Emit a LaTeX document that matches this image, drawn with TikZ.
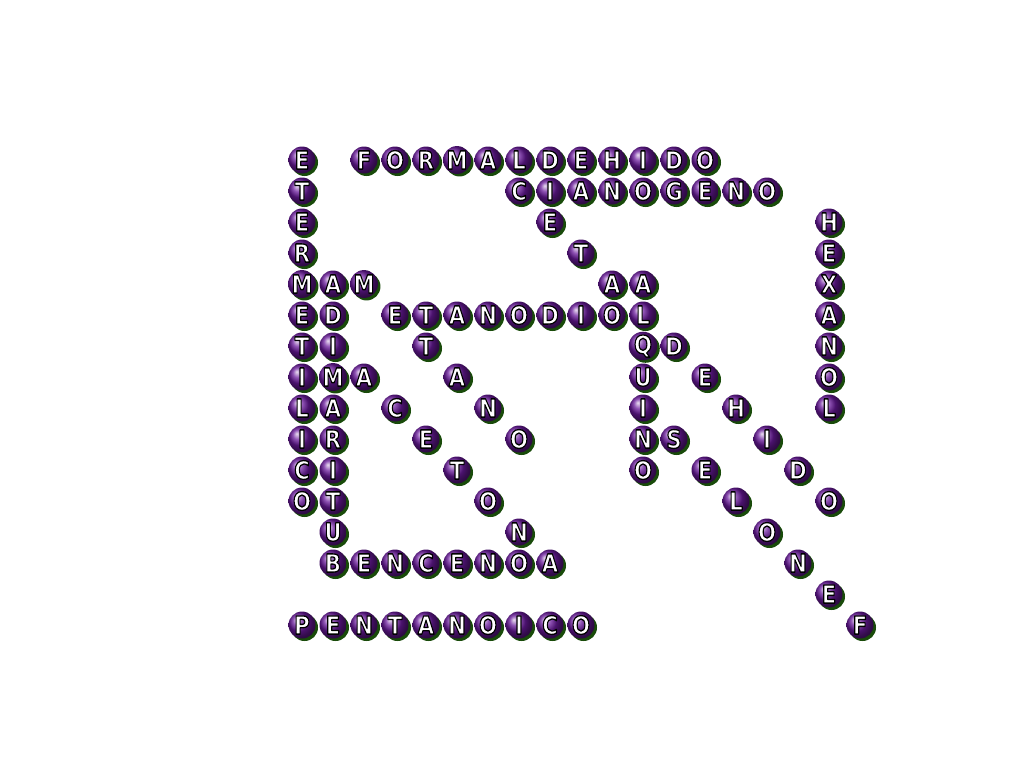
\documentclass[tikz,border=0pt]{standalone}
\usepackage{fontspec}
\usetikzlibrary{shadows}
\newfontfamily\ballfont{DejaVu Sans}
\definecolor{ballpurple}{RGB}{105,25,155}
\definecolor{ballshadow}{RGB}{25,75,10}
% white letter with a black outline
\newcommand{\outlined}[1]{\scalebox{0.85}[1]{\special{pdf:code 1 g 0 G 2 Tr 1.3 w 1 j}#1\special{pdf:code 0 Tr 0.4 w 0 j}}}

\begin{document}
\begin{tikzpicture}[x=1pt,y=-1pt]
\tikzset{font=\ballfont\bfseries\fontsize{25}{25}\selectfont}
\tikzset{letterball/.style={circle, minimum size=27pt, inner sep=0pt, ball color=ballpurple, text=white,
  drop shadow={shadow xshift=2.5pt, shadow yshift=-2.5pt, fill=ballshadow, opacity=1}}}
\useasboundingbox (0,0) rectangle (1024,768);
% grid cells as column/row/letter
\foreach \c/\r/\l in {0/0/E, 2/0/F, 3/0/O, 4/0/R, 5/0/M, 6/0/A, 7/0/L, 8/0/D, 9/0/E, 10/0/H, 11/0/I, 12/0/D, 13/0/O,
  0/1/T, 7/1/C, 8/1/I, 9/1/A, 10/1/N, 11/1/O, 12/1/G, 13/1/E, 14/1/N, 15/1/O,
  0/2/E, 8/2/E, 17/2/H,
  0/3/R, 9/3/T, 17/3/E,
  0/4/M, 1/4/A, 2/4/M, 10/4/A, 11/4/A, 17/4/X,
  0/5/E, 1/5/D, 3/5/E, 4/5/T, 5/5/A, 6/5/N, 7/5/O, 8/5/D, 9/5/I, 10/5/O, 11/5/L, 17/5/A,
  0/6/T, 1/6/I, 4/6/T, 11/6/Q, 12/6/D, 17/6/N,
  0/7/I, 1/7/M, 2/7/A, 5/7/A, 11/7/U, 13/7/E, 17/7/O,
  0/8/L, 1/8/A, 3/8/C, 6/8/N, 11/8/I, 14/8/H, 17/8/L,
  0/9/I, 1/9/R, 4/9/E, 7/9/O, 11/9/N, 12/9/S, 15/9/I,
  0/10/C, 1/10/I, 5/10/T, 11/10/O, 13/10/E, 16/10/D,
  0/11/O, 1/11/T, 6/11/O, 14/11/L, 17/11/O,
  1/12/U, 7/12/N, 15/12/O,
  1/13/B, 2/13/E, 3/13/N, 4/13/C, 5/13/E, 6/13/N, 7/13/O, 8/13/A, 16/13/N,
  17/14/E,
  0/15/P, 1/15/E, 2/15/N, 3/15/T, 4/15/A, 5/15/N, 6/15/O, 7/15/I, 8/15/C, 9/15/O, 18/15/F}
  \node[letterball] (l-\c-\r) at ({302+31*\c},{160+31*\r}) {\outlined{\l}};
\end{tikzpicture}
\end{document}
